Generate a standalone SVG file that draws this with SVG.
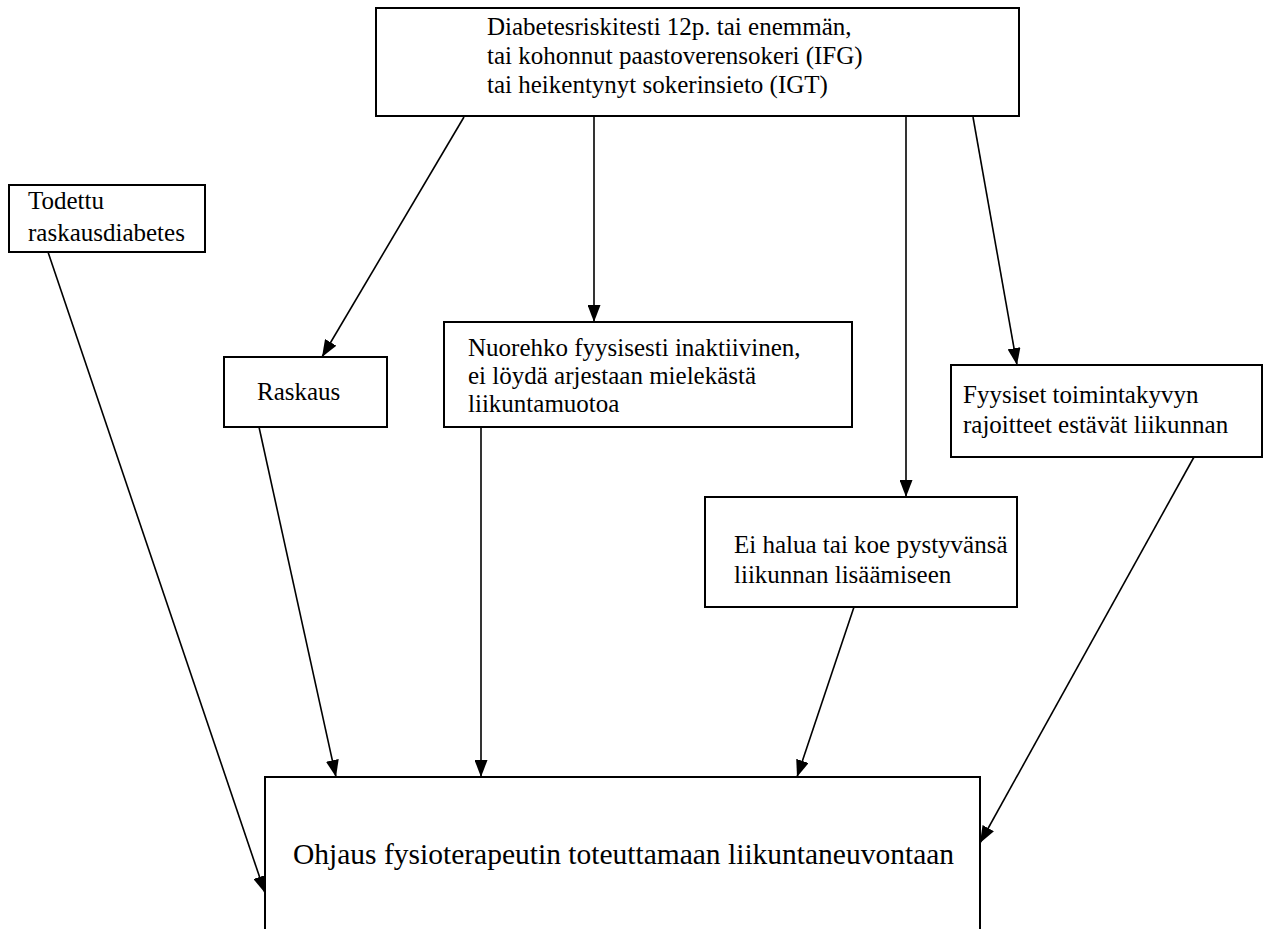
<svg xmlns="http://www.w3.org/2000/svg" width="1266" height="929" viewBox="0 0 1266 929">
<style>
.box{fill:#fff;stroke:#000;stroke-width:2}
.t{font-family:"Liberation Serif","Times New Roman",serif;font-size:25px;fill:#000}
.big{font-size:29.5px}
.c{stroke:#000;stroke-width:1.6;fill:none;marker-end:url(#ah)}
</style>
<defs>
<marker id="ah" viewBox="0 0 17 13" refX="17" refY="6.5" markerWidth="17" markerHeight="13" markerUnits="userSpaceOnUse" orient="auto">
<path d="M0,0 L17,6.5 L0,13 Z" fill="#000"/>
</marker>
</defs>
<rect width="1266" height="929" fill="#fff"/>
<g id="connectors">
<line class="c" x1="464" y1="117" x2="322" y2="357"/>
<line class="c" x1="594" y1="117" x2="594" y2="322"/>
<line class="c" x1="906" y1="117" x2="906" y2="497"/>
<line class="c" x1="973" y1="117" x2="1017" y2="365"/>
<line class="c" x1="48" y1="252" x2="265" y2="893"/>
<line class="c" x1="259" y1="427" x2="336" y2="777"/>
<line class="c" x1="481" y1="427" x2="481" y2="777"/>
<line class="c" x1="854" y1="607" x2="797" y2="777"/>
<line class="c" x1="1194" y1="457" x2="980" y2="843"/>
</g>
<g id="top">
<rect class="box" x="376" y="8" width="643" height="108"/>
<text class="t" x="487" y="35">Diabetesriskitesti 12p. tai enemmän,</text>
<text class="t" x="487" y="64">tai kohonnut paastoverensokeri (IFG)</text>
<text class="t" x="487" y="93">tai heikentynyt sokerinsieto (IGT)</text>
</g>
<g id="todettu">
<rect class="box" x="9" y="185" width="196" height="67"/>
<text class="t" x="28" y="209">Todettu</text>
<text class="t" x="28" y="241">raskausdiabetes</text>
</g>
<g id="raskaus">
<rect class="box" x="224" y="357" width="163" height="70"/>
<text class="t" x="257" y="400">Raskaus</text>
</g>
<g id="nuorehko">
<rect class="box" x="444" y="322" width="408" height="105"/>
<text class="t" x="468" y="356">Nuorehko fyysisesti inaktiivinen,</text>
<text class="t" x="468" y="384">ei löydä arjestaan mielekästä</text>
<text class="t" x="468" y="412">liikuntamuotoa</text>
</g>
<g id="fyysiset">
<rect class="box" x="951" y="365" width="311" height="92"/>
<text class="t" x="963" y="403">Fyysiset toimintakyvyn</text>
<text class="t" x="963" y="433">rajoitteet estävät liikunnan</text>
</g>
<g id="eihalua">
<rect class="box" x="705" y="497" width="312" height="110"/>
<text class="t" x="734" y="553">Ei halua tai koe pystyvänsä</text>
<text class="t" x="734" y="583">liikunnan lisäämiseen</text>
</g>
<g id="bottom">
<rect class="box" x="265" y="777" width="715" height="170"/>
<text class="t big" x="293" y="864">Ohjaus fysioterapeutin toteuttamaan liikuntaneuvontaan</text>
</g>
</svg>
